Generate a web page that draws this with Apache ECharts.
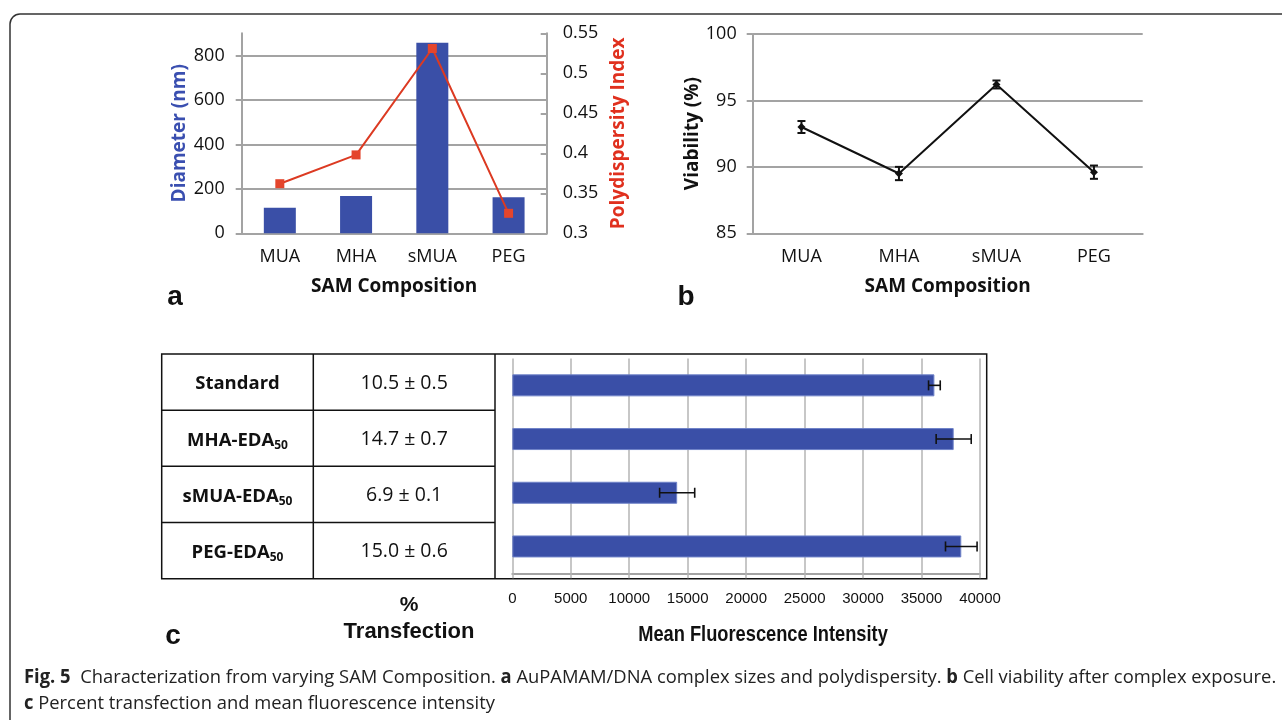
<!DOCTYPE html>
<html>
<head>
<meta charset="utf-8">
<script src="https://cdn.jsdelivr.net/npm/echarts@6/dist/echarts.min.js"></script>
<style>
  html, body { margin: 0; padding: 0; background: #fff; }
  #main { width: 1282px; height: 720px; }
</style>
</head>
<body>
<div id="main"></div>
<script>
// panel a / b categories
var samCats = ['MUA', 'MHA', 'sMUA', 'PEG'];
// panel a
var diameter = [115, 168, 858, 162];
var pdi = [0.362, 0.398, 0.531, 0.325];
// panel b
var viability = [93.0, 89.5, 96.2, 89.6];
var viabilityErr = [0.45, 0.5, 0.3, 0.5];
// panel c
var edaCats = ['Standard', 'MHA-EDA50', 'sMUA-EDA50', 'PEG-EDA50'];
var tableLabels = ['{b|Standard}', '{b|MHA-EDA}{s|50}', '{b|sMUA-EDA}{s|50}', '{b|PEG-EDA}{s|50}'];
var transfection = [10.5, 14.7, 6.9, 15.0];
var transfectionErr = [0.5, 0.7, 0.1, 0.6];
var mfi = [36100, 37750, 14100, 38400];
var mfiErr = [500, 1500, 1500, 1350];

var gray = '#a3a3a3';
var blue = '#3a4fa7';
var red = '#dc3a22';
var fontA = '"Open Sans", sans-serif';
var fontC = '"Liberation Sans", Arial, sans-serif';

// error bar helpers
function vErr(params, api) {
    var top = api.coord([api.value(0), api.value(1) + api.value(2)]);
    var bot = api.coord([api.value(0), api.value(1) - api.value(2)]);
    var w = 4, st = { stroke: '#111', lineWidth: 2 };
    return { type: 'group', children: [
        { type: 'line', shape: { x1: top[0], y1: top[1], x2: bot[0], y2: bot[1] }, style: st },
        { type: 'line', shape: { x1: top[0] - w, y1: top[1], x2: top[0] + w, y2: top[1] }, style: st },
        { type: 'line', shape: { x1: bot[0] - w, y1: bot[1], x2: bot[0] + w, y2: bot[1] }, style: st }
    ] };
}
function hErr(params, api) {
    var r = api.coord([api.value(1) + api.value(2), api.value(0)]);
    var l = api.coord([api.value(1) - api.value(2), api.value(0)]);
    var h = 5, st = { stroke: '#111', lineWidth: 1.6 };
    return { type: 'group', children: [
        { type: 'line', shape: { x1: l[0], y1: l[1], x2: r[0], y2: r[1] }, style: st },
        { type: 'line', shape: { x1: l[0], y1: l[1] - h, x2: l[0], y2: l[1] + h }, style: st },
        { type: 'line', shape: { x1: r[0], y1: r[1] - h, x2: r[0], y2: r[1] + h }, style: st }
    ] };
}

// table graphics for panel c
var tblL = 161.7, tblR = 986.7, tblT = 354, tblB = 578.7, col1 = 313.3, col2 = 495;
var rowH = (tblB - tblT) / 4;
var tableGraphics = [
    { type: 'rect', shape: { x: tblL, y: tblT, width: tblR - tblL, height: tblB - tblT },
      style: { fill: 'none', stroke: '#111', lineWidth: 1.5 } },
    { type: 'line', shape: { x1: col1, y1: tblT, x2: col1, y2: tblB }, style: { stroke: '#111', lineWidth: 1.5 } },
    { type: 'line', shape: { x1: col2, y1: tblT, x2: col2, y2: tblB }, style: { stroke: '#111', lineWidth: 1.5 } }
];
for (var i = 0; i < 4; i++) {
    if (i > 0) {
        tableGraphics.push({ type: 'line', shape: { x1: tblL, y1: tblT + rowH * i, x2: col2, y2: tblT + rowH * i },
            style: { stroke: '#111', lineWidth: 1.5 } });
    }
    tableGraphics.push({ type: 'text', x: (tblL + col1) / 2, y: tblT + rowH * (i + 0.5) + 2,
        style: { text: tableLabels[i], align: 'center', verticalAlign: 'middle',
            rich: { b: { fontFamily: fontA, fontWeight: 'bold', fontSize: 18.5, fill: '#111' },
                    s: { fontFamily: fontA, fontWeight: 'bold', fontSize: 12, fill: '#111', padding: [10, 0, 0, 0] } } } });
    tableGraphics.push({ type: 'text', x: (col1 + col2) / 2, y: tblT + rowH * (i + 0.5) + 1,
        style: { text: transfection[i].toFixed(1) + ' \u00b1 ' + transfectionErr[i].toFixed(1),
            align: 'center', verticalAlign: 'middle', fontFamily: fontA, fontSize: 19.5, fill: '#111' } });
}

var chart = echarts.init(document.getElementById('main'));

chart.setOption({
    animation: false,
    backgroundColor: '#fff',
    textStyle: { fontFamily: fontA },
    grid: [
        { left: 241.7, top: 33.3, width: 305, height: 200 },
        { left: 752.7, top: 34, width: 390, height: 199.3 },
        { left: 512.3, top: 358.5, width: 467.7, height: 214.8 }
    ],
    xAxis: [
        { type: 'category', gridIndex: 0, data: samCats,
          axisLine: { lineStyle: { color: gray, width: 2 } },
          axisTick: { length: 6, lineStyle: { color: gray, width: 2 } },
          axisLabel: { color: '#111', fontSize: 18, margin: 15 },
          name: 'SAM Composition', nameLocation: 'middle', nameGap: 44,
          nameTextStyle: { color: '#111', fontWeight: 'bold', fontSize: 19 } },
        { type: 'category', gridIndex: 1, data: samCats,
          axisLine: { lineStyle: { color: gray, width: 2 } },
          axisTick: { length: 6, lineStyle: { color: gray, width: 2 } },
          axisLabel: { color: '#111', fontSize: 18, margin: 15 },
          name: 'SAM Composition', nameLocation: 'middle', nameGap: 44,
          nameTextStyle: { color: '#111', fontWeight: 'bold', fontSize: 19 } },
        { type: 'value', gridIndex: 2, min: 0, max: 40000, interval: 5000,
          axisLine: { show: true, lineStyle: { color: gray, width: 2 } },
          axisTick: { show: true, length: 5, lineStyle: { color: '#b5b5b5', width: 1.5 } },
          splitLine: { lineStyle: { color: '#b5b5b5', width: 1.5 } },
          axisLabel: { color: '#111', fontSize: 15, fontFamily: fontC, margin: 18,
                       formatter: function (v) { return String(v); } } }
    ],
    yAxis: [
        { type: 'value', gridIndex: 0, min: 0, max: 900, interval: 200,
          axisLine: { show: true, lineStyle: { color: gray, width: 2 } },
          axisTick: { show: true, length: 6, customValues: [0, 200, 400, 600, 800], lineStyle: { color: gray, width: 2 } },
          axisLabel: { color: '#111', fontSize: 18, margin: 17, customValues: [0, 200, 400, 600, 800] },
          splitLine: { lineStyle: { color: [gray, gray, gray, gray, gray, 'rgba(0,0,0,0)'], width: 2 } },
          name: 'Diameter (nm)', nameLocation: 'middle', nameGap: 53, nameRotate: 90,
          nameTextStyle: { color: '#3a4fb0', fontWeight: 'bold', fontSize: 19 } },
        { type: 'value', gridIndex: 0, position: 'right', min: 0.3, max: 0.55, interval: 0.05,
          axisLine: { show: true, lineStyle: { color: gray, width: 2 } },
          axisTick: { show: true, inside: true, length: 6, lineStyle: { color: gray, width: 2 } },
          axisLabel: { color: '#111', fontSize: 18, margin: 16 },
          splitLine: { show: false },
          name: 'Polydispersity Index', nameLocation: 'middle', nameGap: 62, nameRotate: 90,
          nameTextStyle: { color: '#e0301e', fontWeight: 'bold', fontSize: 19 } },
        { type: 'value', gridIndex: 1, min: 85, max: 100, interval: 5,
          axisLine: { show: true, lineStyle: { color: gray, width: 2 } },
          axisTick: { show: true, length: 6, lineStyle: { color: gray, width: 2 } },
          axisLabel: { color: '#111', fontSize: 18, margin: 16 },
          splitLine: { lineStyle: { color: gray, width: 2 } },
          name: 'Viability (%)', nameLocation: 'middle', nameGap: 51, nameRotate: 90,
          nameTextStyle: { color: '#111', fontWeight: 'bold', fontSize: 19 } },
        { type: 'category', gridIndex: 2, data: edaCats, inverse: true,
          axisLine: { show: false }, axisTick: { show: false }, axisLabel: { show: false } }
    ],
    series: [
        { type: 'bar', xAxisIndex: 0, yAxisIndex: 0, data: diameter, barWidth: 32,
          itemStyle: { color: blue } },
        { type: 'line', xAxisIndex: 0, yAxisIndex: 1, data: pdi, symbol: 'rect', symbolSize: 9,
          lineStyle: { color: red, width: 2 }, itemStyle: { color: '#e4452c' } },
        { type: 'line', xAxisIndex: 1, yAxisIndex: 2, data: viability, symbol: 'diamond', symbolSize: 8,
          lineStyle: { color: '#111', width: 2 }, itemStyle: { color: '#111' } },
        { type: 'custom', xAxisIndex: 1, yAxisIndex: 2, renderItem: vErr, z: 5,
          data: viability.map(function (v, i) { return [i, v, viabilityErr[i]]; }) },
        { type: 'bar', xAxisIndex: 2, yAxisIndex: 3, data: mfi, barWidth: 22,
          itemStyle: { color: blue, borderColor: '#6f82c8', borderWidth: 1 } },
        { type: 'custom', xAxisIndex: 2, yAxisIndex: 3, renderItem: hErr, z: 5,
          data: mfi.map(function (v, i) { return [i, v, mfiErr[i]]; }) }
    ],
    graphic: [
        { type: 'rect', z: -1, shape: { x: 10, y: 14, width: 1320, height: 760, r: 10 },
          style: { fill: 'none', stroke: '#333', lineWidth: 1.5 } },
        { type: 'text', x: 175, y: 297, style: { text: 'a', align: 'center', verticalAlign: 'middle',
          fontFamily: fontC, fontWeight: 'bold', fontSize: 28, fill: '#111' } },
        { type: 'text', x: 686, y: 297, style: { text: 'b', align: 'center', verticalAlign: 'middle',
          fontFamily: fontC, fontWeight: 'bold', fontSize: 28, fill: '#111' } },
        { type: 'text', x: 173, y: 636, style: { text: 'c', align: 'center', verticalAlign: 'middle',
          fontFamily: fontC, fontWeight: 'bold', fontSize: 28, fill: '#111' } },
        { type: 'text', x: 409, y: 605, style: { text: '%', align: 'center', verticalAlign: 'middle',
          fontFamily: fontC, fontWeight: 'bold', fontSize: 21, fill: '#111' } },
        { type: 'text', x: 409, y: 632, style: { text: 'Transfection', align: 'center', verticalAlign: 'middle',
          fontFamily: fontC, fontWeight: 'bold', fontSize: 22, fill: '#111' } },
        { type: 'text', x: 763, y: 635, scaleX: 0.83,
          style: { text: 'Mean Fluorescence Intensity', align: 'center', verticalAlign: 'middle',
          fontFamily: fontC, fontWeight: 'bold', fontSize: 22, fill: '#111' } },
        { type: 'text', x: 24, y: 678, scaleX: 0.967,
          style: { text: '{b|Fig. 5}  Characterization from varying SAM Composition. {b|a} AuPAMAM/DNA complex sizes and polydispersity. {b|b} Cell viability after complex exposure.',
            verticalAlign: 'middle', fontFamily: fontA, fontSize: 19, fill: '#222',
            rich: { b: { fontFamily: fontA, fontWeight: 'bold', fontSize: 19, fill: '#222' } } } },
        { type: 'text', x: 24, y: 704, scaleX: 0.967,
          style: { text: '{b|c} Percent transfection and mean fluorescence intensity',
            verticalAlign: 'middle', fontFamily: fontA, fontSize: 19, fill: '#222',
            rich: { b: { fontFamily: fontA, fontWeight: 'bold', fontSize: 19, fill: '#222' } } } }
    ].concat(tableGraphics)
});
</script>
</body>
</html>
